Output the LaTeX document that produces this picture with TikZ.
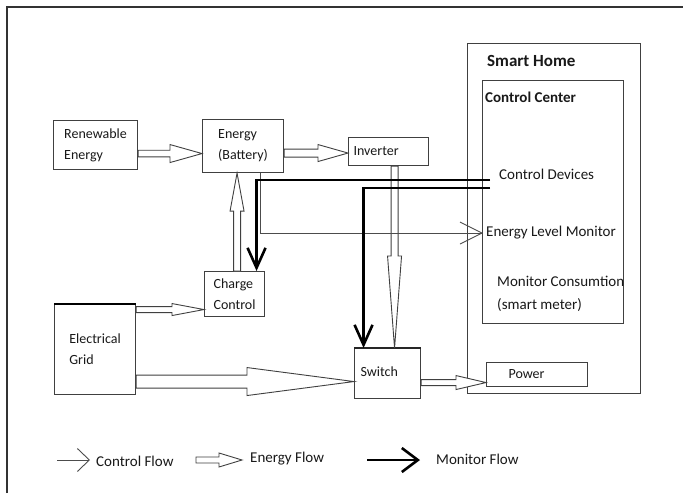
\documentclass[tikz,border=0pt]{standalone}
\usepackage{fontspec}
\setmainfont{Carlito}
\usetikzlibrary{calc,arrows.meta}
\newcommand\eflow[5]{%
  \coordinate (ef-b) at ($(#2)!#4!(#1)$);
  \draw[energy] ($(#1)!#3!90:(#2)$) -- ($(ef-b)!#3!90:(#2)$) -- ($(ef-b)!#5!90:(#2)$) -- (#2)
    -- ($(ef-b)!#5!-90:(#2)$) -- ($(ef-b)!#3!-90:(#2)$) -- ($(#1)!#3!-90:(#2)$) -- cycle;}
\begin{document}
\begin{tikzpicture}[x=1pt,y=-1pt,
  txt/.style={inner sep=0pt, font=\fontsize{14}{21}\selectfont, text=black!90},
  box/.style={draw=black!75, line width=1.1pt, inner sep=0pt, align=left, anchor=north west,
    font=\fontsize{14}{21}\selectfont, text=black!90},
  energy/.style={draw=black!75, line width=0.9pt, fill=white, line join=miter},
  control/.style={draw=black!70, line width=0.9pt, -{Straight Barb[length=22pt,width=22pt,line width=0.9pt]}},
  monitor/.style={draw=black, line width=2.6pt, -{Straight Barb[length=20pt,width=18pt,line width=2.6pt]}}]
\useasboundingbox (0,0) rectangle (683,493);
\fill[white] (0,0) rectangle (683,493);
\draw[line width=2pt, black!80] (7,493) -- (7,7) -- (683,7);

% boxes
\node[box, minimum width=84, minimum height=49] (ren) at (53,120) {Renewable\\Energy};
\node[box, minimum width=81, minimum height=53] (bat) at (202,119) {Energy\\(Battery)};
\node[box, minimum width=60, minimum height=45] (cc) at (204,271) {Charge\\Control};
\node[box, minimum width=80, minimum height=28, text width=70pt, inner xsep=5pt] (inv) at (348,137) {Inverter};
\node[box, minimum width=81, minimum height=90] (grid) at (54,304) {Electrical\\Grid};
\draw[line width=2.5pt] (grid.north west) -- (grid.north east);
\node[box, minimum width=66, minimum height=50, text width=54pt, inner xsep=6pt] (sw) at (354,348) {\raisebox{4pt}{Switch}};
\draw[line width=1.8pt, black!85] (sw.north west) -- (sw.north east);
\node[box, minimum width=101, minimum height=24, text width=57pt, inner xsep=22pt] (pow) at (486,362) {Power};

% smart home
\node[box, minimum width=173, minimum height=350] (home) at (467,43) {};
\node[txt, anchor=west, font=\fontsize{17}{20}\selectfont\bfseries] (homet) at (487,61) {Smart Home};
\node[box, minimum width=141, minimum height=243] (ctrl) at (482,80) {};
\node[txt, anchor=west, font=\fontsize{15}{18}\selectfont\bfseries] (ctrlt) at (485,97) {Control Center};
\node[txt, anchor=west, font=\fontsize{15}{18}\selectfont] (cdev) at (499,174) {Control Devices};
\node[txt, anchor=west, inner xsep=3pt, font=\fontsize{15}{18}\selectfont] (elm) at (483,233) {Energy Level Monitor};
\node[txt, anchor=west, align=left, font=\fontsize{15}{23}\selectfont] (mcons) at (497,294) {Monitor Consumtion\\(smart meter)};

% energy flows
\coordinate (e1s) at ($(ren.east)+(0,8.5)$); \coordinate (e1t) at (bat.west |- e1s);
\eflow{e1s}{e1t}{3.3pt}{32pt}{9pt}
\coordinate (e2s) at ($(bat.east)+(0,7)$); \coordinate (e2t) at (inv.west |- e2s);
\eflow{e2s}{e2t}{4pt}{30pt}{8.5pt}
\coordinate (e3s) at ($(cc.north)+(2.5,0)$); \coordinate (e3t) at (e3s |- bat.south);
\eflow{e3s}{e3t}{3.5pt}{38pt}{7pt}
\coordinate (e4s) at ($(inv.south)+(6,0)$); \coordinate (e4t) at (e4s |- sw.north);
\eflow{e4s}{e4t}{3.5pt}{92pt}{7pt}
\coordinate (e5s) at ($(grid.east)+(0,-40)$); \coordinate (e5t) at (cc.west |- e5s);
\eflow{e5s}{e5t}{3pt}{32pt}{6pt}
\coordinate (e6s) at ($(grid.east)+(0,32)$); \coordinate (e6t) at (sw.west |- e6s);
\eflow{e6s}{e6t}{6.5pt}{107pt}{14pt}
\coordinate (e7s) at ($(sw.east)+(0,9)$); \coordinate (e7t) at (pow.west |- e7s);
\eflow{e7s}{e7t}{3pt}{30pt}{7pt}

% control flow
\draw[control] ([xshift=17.5pt]bat.south) |- (elm.west);

% monitor flows
\coordinate (m1) at (490,180);
\coordinate (m2) at (490,188);
\draw[monitor] (m1) -| ([xshift=22pt]cc.north);
\draw[monitor] (m2) -| ([xshift=-24pt]sw.north);

% legend
\coordinate (lc1) at (57,460); \coordinate (lc2) at (90,460);
\draw[draw=black!70, line width=0.9pt, -{Straight Barb[length=12pt,width=23pt,line width=0.9pt]}] (lc1) -- (lc2);
\node[txt, anchor=west, font=\fontsize{15}{18}\selectfont] (lct) at (96,461) {Control Flow};
\coordinate (le1) at (196,460); \coordinate (le2) at (242,460);
\eflow{le1}{le2}{3pt}{23pt}{7pt}
\node[txt, anchor=west, font=\fontsize{15}{18}\selectfont] (let) at (250,459) {Energy Flow};
\coordinate (lm1) at (367,460); \coordinate (lm2) at (420,460);
\draw[draw=black, line width=2.6pt, -{Straight Barb[length=16pt,width=24pt,line width=2.6pt]}] (lm1) -- (lm2);
\node[txt, anchor=west, font=\fontsize{15}{18}\selectfont] (lmt) at (436,459) {Monitor Flow};
\end{tikzpicture}
\end{document}
